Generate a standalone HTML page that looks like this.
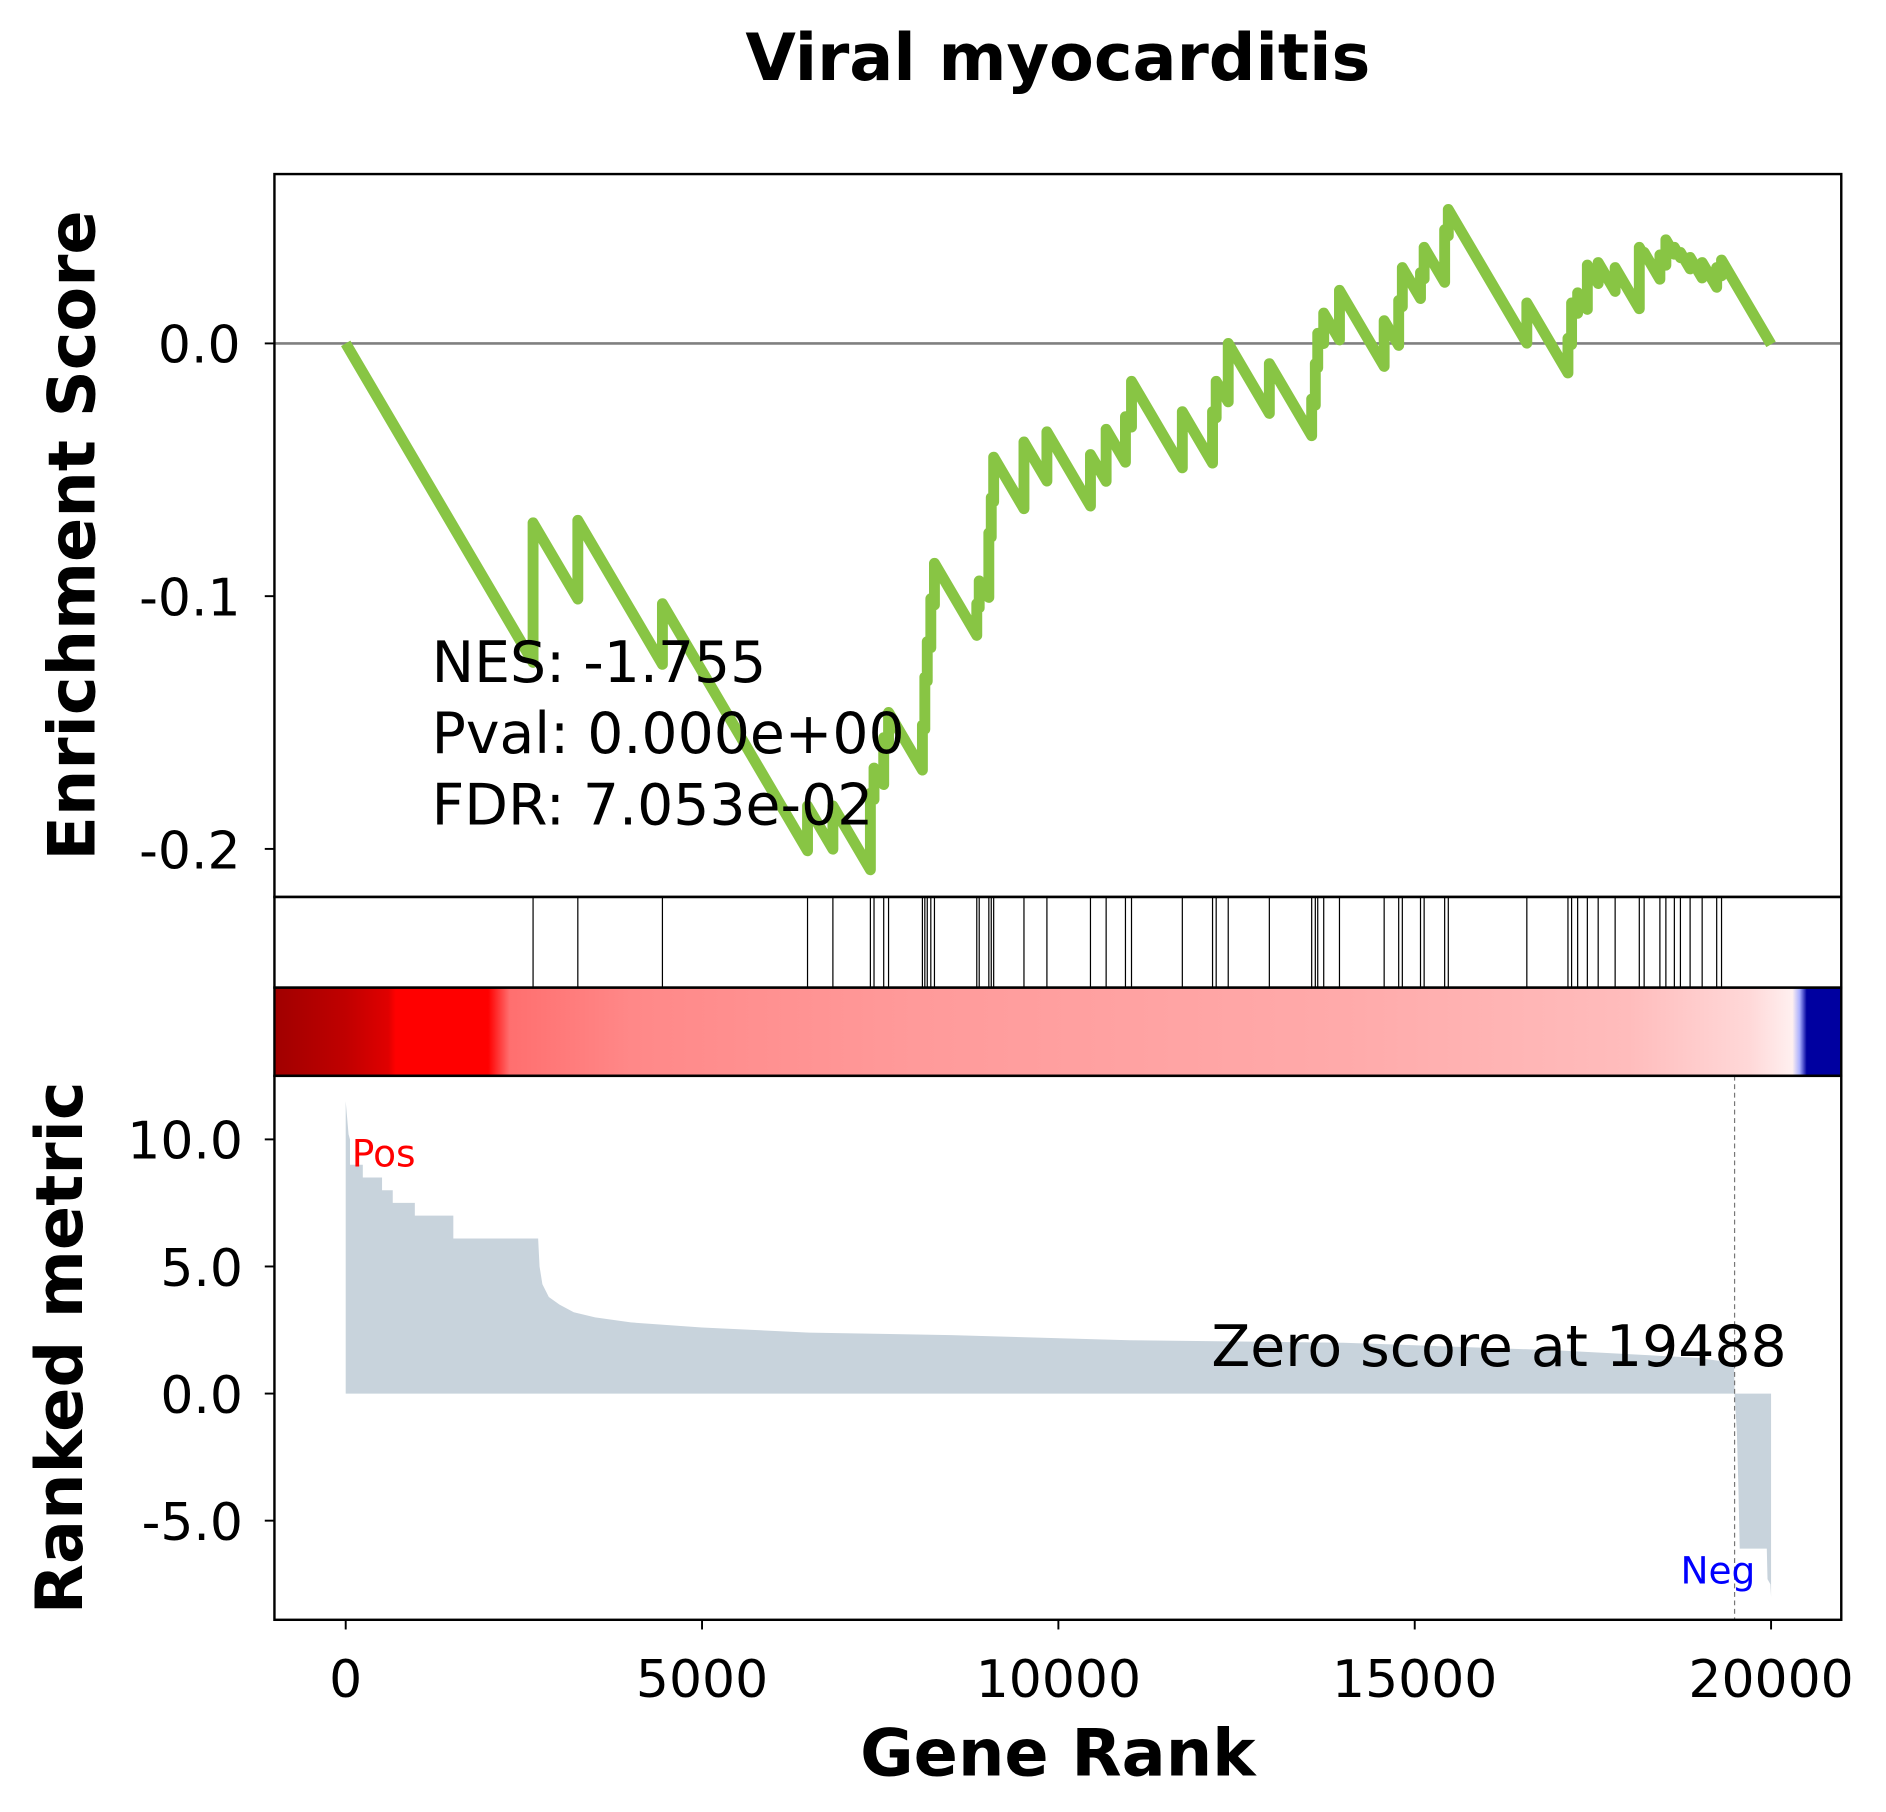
<!DOCTYPE html>
<html><head><meta charset="utf-8"><style>
html,body{margin:0;padding:0;background:#fff}
svg{display:block;font-family:"DejaVu Sans","Liberation Sans",sans-serif}
</style></head><body>
<svg id="chart" width="1886" height="1812" viewBox="0 0 1560 1499" preserveAspectRatio="none" xmlns="http://www.w3.org/2000/svg">
<rect width="1560" height="1499" fill="#fff"/>
<text x="875" y="66" font-size="54" font-weight="bold" text-anchor="middle">Viral myocarditis</text>
<g id="g"></g>
</svg>
<script>
// ---- data ----
const hitRanks=[2629,3257,4444,6480,6836,7362,7413,7549,7617,8092,8126,8160,8210,8261,8855,8889,9024,9058,9092,9517,9839,10450,10670,10941,11026,11739,12163,12214,12383,12960,13554,13605,13639,13723,13944,14571,14775,14826,15081,15132,15420,15471,16573,17150,17201,17286,17422,17574,17812,18151,18219,18440,18524,18643,18728,18864,19033,19237,19305];
const esPeaks=[-0.071,-0.070,-0.103,-0.183,-0.183,-0.178,-0.168,-0.156,-0.146,-0.151,-0.132,-0.118,-0.101,-0.087,-0.103,-0.094,-0.075,-0.061,-0.045,-0.039,-0.035,-0.044,-0.034,-0.029,-0.015,-0.027,-0.027,-0.015,0.000,-0.008,-0.022,-0.008,0.004,0.012,0.021,0.009,0.017,0.030,0.028,0.038,0.045,0.053,0.016,0.002,0.016,0.020,0.031,0.032,0.030,0.038,0.036,0.035,0.041,0.038,0.036,0.034,0.032,0.030,0.033];
const esSlope=-4.8e-5;
const metricRanks=[0,40,60,60,240,240,510,510,660,660,970,970,1510,1510,2700,2720,2760,2850,3000,3200,3500,4000,5000,6500,8500,11000,14000,17000,19000,19480,19488,19520,19540,19560,19940,19950,19990,20000];
const metricVals=[11.5,10.2,10.0,9.0,9.0,8.5,8.5,8.0,8.0,7.5,7.5,7.0,7.0,6.1,6.1,5.0,4.3,3.8,3.5,3.2,3.0,2.8,2.6,2.4,2.3,2.1,2.0,1.7,1.4,1.2,0.0,-1.5,-3.5,-6.1,-6.1,-7.3,-7.5,-8.0];
const esTicks=[0.0,-0.1,-0.2];
const esTickLabels=["0.0","-0.1","-0.2"];
const rmTicks=[10,5,0,-5];
const rmTickLabels=["10.0","5.0","0.0","-5.0"];
const xTicks=[0,5000,10000,15000,20000];
const xTickLabels=["0","5000","10000","15000","20000"];
const barStops=[[-1000,"#a00000"],[0,"#c00000"],[600,"#e00000"],[700,"#ff0000"],[2000,"#ff0000"],[2300,"#ff6f6f"],[4000,"#ff8888"],[8000,"#ff9a9a"],[14000,"#ffaaaa"],[18000,"#ffbcbc"],[19700,"#ffd8d8"],[20300,"#fff0f0"],[20400,"#aab0ff"],[20500,"#0000a0"],[21000,"#0000a0"]];
// ---- layout ----
const L=227,R=1523,xmin=-1000,xmax=20985;
const X=v=>L+(v-xmin)/(xmax-xmin)*(R-L);
const T1=144,B1=742,esMax=0.067,esMin=-0.219;
const Y1=v=>T1+(esMax-v)/(esMax-esMin)*(B1-T1);
const T3=890,B3=1340,rmMax=12.5,rmMin=-8.9;
const Y3=v=>T3+(rmMax-v)/(rmMax-rmMin)*(B3-T3);
const NS="http://www.w3.org/2000/svg";
const g=document.getElementById('g');
function mk(t,a,txt){const e=document.createElementNS(NS,t);for(const k in a)e.setAttribute(k,a[k]);if(txt!==undefined)e.textContent=txt;g.appendChild(e);return e;}
const defs=document.createElementNS(NS,'defs');g.appendChild(defs);
const lg=document.createElementNS(NS,'linearGradient');lg.setAttribute('id','cb');defs.appendChild(lg);
barStops.forEach(s=>{const st=document.createElementNS(NS,'stop');st.setAttribute('offset',((s[0]-xmin)/(xmax-xmin)));st.setAttribute('stop-color',s[1]);lg.appendChild(st);});
let e=mk('rect',{x:L,y:817,width:R-L,height:73,fill:'url(#cb)'});


e=mk('line',{x1:L,x2:R,y1:Y1(0),y2:Y1(0),stroke:'#808080','stroke-width':2.2});


let pts=[[0,0]],prevR=0,prevV=0;
hitRanks.forEach((r,i)=>{const before=prevV+esSlope*(r-prevR);pts.push([r,before]);pts.push([r,esPeaks[i]]);prevR=r;prevV=esPeaks[i];});
pts.push([20000,prevV+esSlope*(20000-prevR)]);
e=mk('polyline',{points:pts.map(p=>X(p[0])+','+Y1(p[1])).join(' '),fill:'none',stroke:'#88c544','stroke-width':9,'stroke-linejoin':'round','stroke-linecap':'butt'});


hitRanks.forEach(r=>{const h=mk('line',{x1:X(r),x2:X(r),y1:742,y2:817,stroke:'#000','stroke-width':1});

});
let ap=[[0,0]];metricRanks.forEach((r,i)=>ap.push([r,metricVals[i]]));ap.push([20000,0]);
e=mk('polygon',{points:ap.map(p=>X(p[0])+','+Y3(p[1])).join(' '),fill:'#c8d3dc'});


e=mk('line',{x1:X(19488),x2:X(19488),y1:T3,y2:B3,stroke:'#777','stroke-width':1,'stroke-dasharray':'4,3'});


[[T1,B1,'es-axes'],[742,817,'hits-axes'],[817,890,'colorbar-axes'],[T3,B3,'metric-axes']].forEach(a=>{const r=mk('rect',{x:L,y:a[0],width:R-L,height:a[1]-a[0],fill:'none',stroke:'#000','stroke-width':2});

});
esTicks.forEach((v,i)=>{mk('line',{x1:L-8,x2:L,y1:Y1(v),y2:Y1(v),stroke:'#000','stroke-width':1.6});
const t=mk('text',{x:L-28,y:Y1(v)+16,'font-size':43,'text-anchor':'end'},esTickLabels[i]);

});
rmTicks.forEach((v,i)=>{mk('line',{x1:L-8,x2:L,y1:Y3(v),y2:Y3(v),stroke:'#000','stroke-width':1.6});
const t=mk('text',{x:L-26,y:Y3(v)+16,'font-size':43,'text-anchor':'end'},rmTickLabels[i]);

});
xTicks.forEach((v,i)=>{mk('line',{x1:X(v),x2:X(v),y1:B3,y2:B3+8,stroke:'#000','stroke-width':1.6});
const t=mk('text',{x:X(v),y:B3+64,'font-size':43,'text-anchor':'middle'},xTickLabels[i]);

});
</script>
<svg style="position:absolute;left:0;top:0" width="1886" height="1812" viewBox="0 0 1560 1499" preserveAspectRatio="none" xmlns="http://www.w3.org/2000/svg" font-family="DejaVu Sans, Liberation Sans, sans-serif">
<text x="357" y="564" font-size="47">NES: -1.755</text>
<text x="357" y="623" font-size="47">Pval: 0.000e+00</text>
<text x="357" y="682" font-size="47">FDR: 7.053e-02</text>
<text x="291" y="965" font-size="31" fill="#ff0000">Pos</text>
<text x="1390" y="1310" font-size="31" fill="#0000ff">Neg</text>
<text x="1002" y="1130" font-size="47">Zero score at 19488</text>
<text x="875" y="1469" font-size="54" font-weight="bold" text-anchor="middle">Gene Rank</text>
<text transform="translate(78,443) rotate(-90)" font-size="54" font-weight="bold" text-anchor="middle">Enrichment Score</text>
<text transform="translate(68,1115) rotate(-90)" font-size="54" font-weight="bold" text-anchor="middle">Ranked metric</text>
</svg>
</body></html>
